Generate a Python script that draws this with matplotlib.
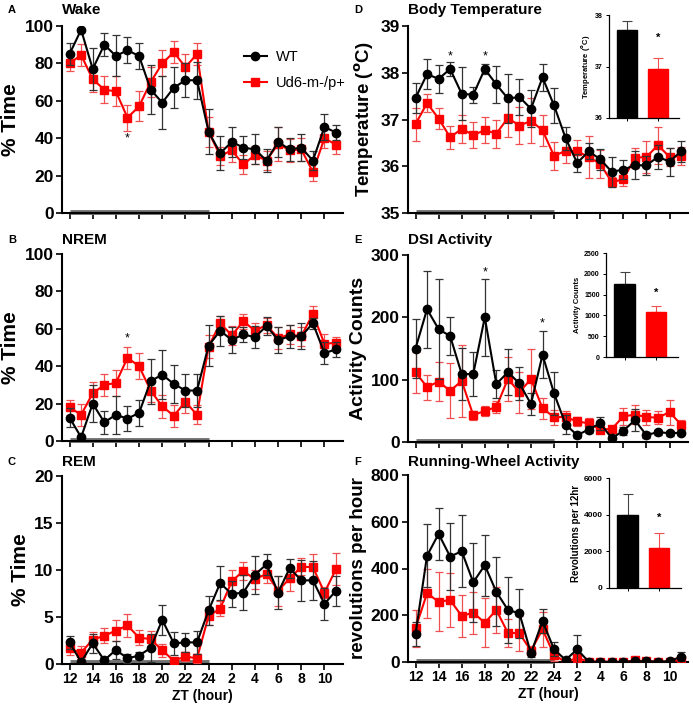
import numpy as np
import matplotlib
matplotlib.use("Agg")
import matplotlib.pyplot as plt
import matplotlib.transforms as mtransforms
from matplotlib.lines import Line2D

plt.rcParams["font.family"] = ["Liberation Sans", "DejaVu Sans"]

# ===== x axis (ZT hour) =====
HOURS = list(range(12, 36))
TICK_POS = list(range(12, 36, 2))
TICK_LABELS = ["12", "14", "16", "18", "20", "22", "24", "2", "4", "6", "8", "10"]

# ===== A: Wake =====
wake_wt = [85, 98, 77, 90, 84, 87, 84, 66, 59, 67, 71, 71,
           43.5, 32, 38, 35, 34, 28, 38, 34, 35, 28, 46, 43]
wake_wt_err = [6, 1, 11, 6, 11, 7, 7, 13, 14, 11, 9, 10,
               12, 9, 8, 6, 8, 6, 8, 6, 7, 5, 7, 4]
wake_ko = [80, 84.5, 71.5, 66, 65, 51, 57, 70, 80, 86, 78, 85,
           43.5, 30.5, 33.5, 26, 31, 28, 37, 33.5, 34, 22, 40, 36.5]
wake_ko_err = [4, 6, 7, 7, 8, 7, 8, 8, 7, 6, 7, 6,
               8, 5, 6, 5, 5, 5, 9, 6, 6, 5, 5, 5]

# ===== B: NREM =====
nrem_wt = [12.5, 2, 20, 10, 14, 12, 15, 32, 35.5, 30.5, 27, 27,
           51, 59, 54, 57, 55.5, 61.5, 54, 56, 56, 63, 47, 49]
nrem_wt_err = [5, 0.5, 10, 6, 10, 6.5, 7, 12, 13, 10, 9, 9,
               11, 8, 7, 4, 6, 5, 7, 6, 7, 3, 6, 4]
nrem_ko = [18, 14, 25.5, 30, 31, 44.5, 40, 27, 18.5, 13.5, 21, 14,
           50.5, 63, 56.5, 64, 59, 62, 55, 57, 56, 68, 52, 52.5]
nrem_ko_err = [4, 6, 6, 6, 7, 6, 7, 6, 6, 6, 6, 5,
               6, 4, 5, 4, 4, 4, 6, 5, 5, 4, 5, 3]

# ===== C: REM =====
rem_wt = [2.3, 0.2, 2.2, 0.4, 1.5, 0.6, 0.9, 1.7, 4.7, 2.2, 2.3, 2.3,
          5.7, 8.6, 7.45, 7.6, 9.5, 10.6, 7.6, 10.2, 8.9, 8.9, 6.4, 7.8]
rem_wt_err = [0.7, 0.3, 1.0, 0.3, 1.0, 0.5, 0.4, 1.5, 1.6, 1.2, 1.0, 1.2,
              1.5, 1.8, 1.4, 1.9, 2.0, 1.1, 1.8, 1.0, 2.2, 2.1, 1.7, 1.6]
rem_ko = [1.65, 1.2, 2.6, 3.0, 3.55, 4.1, 2.8, 2.65, 1.45, 0.35, 0.8, 0.6,
          5.1, 5.9, 8.8, 9.9, 9.0, 9.6, 7.8, 9.1, 10.35, 10.3, 7.6, 10.1]
rem_ko_err = [0.7, 0.7, 0.8, 0.8, 1.1, 1.2, 0.8, 0.9, 0.7, 0.3, 0.5, 0.5,
              1.0, 0.8, 1.2, 1.0, 1.0, 1.0, 1.6, 1.3, 0.9, 1.4, 0.6, 1.7]

# ===== D: Body temperature =====
temp_wt = [37.46, 37.97, 37.87, 38.08, 37.55, 37.53, 38.08, 37.75, 37.45, 37.48, 37.23, 37.9,
           37.3, 36.6, 36.07, 36.32, 36.15, 35.88, 35.93, 36.02, 36.02, 36.2, 36.1, 36.32]
temp_wt_err = [0.33, 0.32, 0.3, 0.15, 0.57, 0.17, 0.1, 0.4, 0.53, 0.38, 0.4, 0.28,
               0.38, 0.25, 0.2, 0.17, 0.22, 0.32, 0.2, 0.3, 0.2, 0.25, 0.3, 0.22]
temp_ko = [36.9, 37.35, 37.02, 36.62, 36.8, 36.67, 36.77, 36.7, 37.03, 36.87, 36.97, 36.77,
           36.22, 36.33, 36.32, 36.2, 36.05, 35.66, 35.72, 36.18, 36.2, 36.45, 36.2, 36.22]
temp_ko_err = [0.35, 0.2, 0.22, 0.25, 0.3, 0.28, 0.28, 0.3, 0.4, 0.4, 0.48, 0.33,
               0.3, 0.25, 0.25, 0.45, 0.3, 0.1, 0.15, 0.22, 0.35, 0.4, 0.2, 0.2]

# ===== E: DSI activity =====
dsi_wt = [150, 213, 181, 170, 109, 109, 200, 93, 112, 94, 61, 140,
          78, 28, 11, 20, 30, 6, 18, 35, 11, 16, 14, 15]
dsi_wt_err = [48, 62, 80, 30, 42, 35, 62, 22, 37, 27, 18, 38,
              35, 15, 5, 5, 10, 4, 6, 18, 5, 4, 4, 4]
dsi_ko = [112, 88, 97, 82, 98, 43, 50, 56, 101, 80, 101, 54,
          40, 40, 33, 30, 20, 21, 41, 44, 40, 39, 48, 28]
dsi_ko_err = [33, 20, 32, 44, 58, 7, 8, 10, 35, 33, 48, 17,
              12, 10, 7, 8, 5, 3, 14, 15, 12, 10, 20, 8]

# ===== F: Running wheel =====
wheel_wt = [120, 455, 548, 451, 474, 341, 414, 300, 223, 208, 37, 175,
            54, 9, 54, 1, 1, 1, 1, 3, 3, 2, 3, 23]
wheel_wt_err = [50, 135, 112, 145, 155, 170, 130, 148, 140, 105, 15, 50,
                30, 5, 60, 3, 3, 3, 3, 3, 3, 3, 3, 20]
wheel_ko = [144, 294, 258, 265, 197, 211, 168, 222, 125, 123, 48, 140,
            30, 0, 17, 2, 2, 0, 0, 7, 3, 2, 2, 10]
wheel_ko_err = [80, 105, 125, 115, 90, 90, 105, 100, 60, 75, 20, 75,
                25, 3, 15, 3, 3, 2, 2, 5, 3, 3, 3, 5]

# ===== insets (12h dark-phase totals) =====
GROUPS = ["WT", "Ud6-m-/p+"]
ins_temp = [37.7, 36.95]
ins_temp_err = [0.18, 0.22]
ins_dsi = [1760, 1070]
ins_dsi_err = [280, 165]
ins_wheel = [4000, 2200]
ins_wheel_err = [1130, 780]

RED = "#ff0000"
W, H = 693, 709


def px_axes(fig, left, top, right, bottom):
    return fig.add_axes([left / W, 1 - bottom / H, (right - left) / W, (bottom - top) / H])


def style_axes(ax, fs=10, yfs=None, lw=1.5, tl=4):
    for s in ["top", "right"]:
        ax.spines[s].set_visible(False)
    for s in ["left", "bottom"]:
        ax.spines[s].set_linewidth(lw)
    ax.tick_params(width=lw * 0.8, length=tl, labelsize=fs, pad=2)
    if yfs:
        ax.tick_params(axis="y", labelsize=yfs)
    for lab in ax.get_yticklabels() + ax.get_xticklabels():
        lab.set_fontweight("bold")


def line_panel(ax, wt, wt_err, ko, ko_err, ylim, yticks, ylabel, ylabel_fs=15, show_x=False):
    ax.errorbar(HOURS, ko, yerr=ko_err, color=RED, marker="s", ms=6, lw=1.5,
                ecolor="#f05050", elinewidth=0.9, capsize=3, capthick=0.9, zorder=3)
    ax.errorbar(HOURS, wt, yerr=wt_err, color="black", marker="o", ms=6, lw=1.5,
                ecolor="#333333", elinewidth=0.9, capsize=3, capthick=0.9, zorder=4)
    ax.set_xlim(11.35, 35.6)
    ax.set_ylim(*ylim)
    ax.set_yticks(yticks)
    ax.set_xticks(TICK_POS)
    if show_x:
        ax.set_xticklabels(TICK_LABELS)
        ax.set_xlabel("ZT (hour)", fontsize=10, fontweight="bold", labelpad=2)
    else:
        ax.set_xticklabels([])
    ax.set_ylabel(ylabel, fontsize=ylabel_fs, fontweight="bold", labelpad=3)
    style_axes(ax, fs=10, yfs=12.5)
    # dark phase bar
    tr = mtransforms.blended_transform_factory(ax.transData, ax.transAxes)
    ax.plot([12, 24], [0.008, 0.008], transform=tr, color="#707070", lw=3.5,
            solid_capstyle="butt", clip_on=False, zorder=2)


def bar_inset(ax, vals, errs, ylim, yticks, ylabel, star_y, fs=5, lfs=5.5):
    ax.bar([0, 1], vals, width=0.66, color=["black", RED], edgecolor=["black", RED], zorder=2)
    ax.errorbar([0], [vals[0]], yerr=[[0], [errs[0]]], fmt="none", ecolor="#444444",
                elinewidth=0.8, capsize=3.5, capthick=0.8, zorder=1)
    ax.errorbar([1], [vals[1]], yerr=[[0], [errs[1]]], fmt="none", ecolor="#f05050",
                elinewidth=0.8, capsize=3.5, capthick=0.8, zorder=1)
    ax.set_xlim(-0.6, 1.7)
    ax.set_ylim(*ylim)
    ax.set_yticks(yticks)
    ax.set_xticks([0, 1])
    ax.set_xticklabels([])
    ax.set_ylabel(ylabel, fontsize=lfs, fontweight="bold", labelpad=2)
    style_axes(ax, fs=fs, lw=0.9, tl=2.5)
    ax.text(1, star_y, "*", ha="center", va="center", fontsize=8, fontweight="bold")


fig = plt.figure(figsize=(6.93, 7.09), dpi=100)

axA = px_axes(fig, 62, 26, 343, 213)
axB = px_axes(fig, 62, 254, 343, 441)
axC = px_axes(fig, 62, 476, 343, 664)
axD = px_axes(fig, 408, 26, 688, 213)
axE = px_axes(fig, 408, 255, 688, 442)
axF = px_axes(fig, 408, 475, 688, 662)

line_panel(axA, wake_wt, wake_wt_err, wake_ko, wake_ko_err, (0, 100), range(0, 101, 20), "% Time")
line_panel(axB, nrem_wt, nrem_wt_err, nrem_ko, nrem_ko_err, (0, 100), range(0, 101, 20), "% Time")
line_panel(axC, rem_wt, rem_wt_err, rem_ko, rem_ko_err, (0, 20), range(0, 21, 5), "% Time", show_x=True)
line_panel(axD, temp_wt, temp_wt_err, temp_ko, temp_ko_err, (35, 39), range(35, 40),
           "Temperature ($^{\\mathbf{o}}$C)", ylabel_fs=13.5)
line_panel(axE, dsi_wt, dsi_wt_err, dsi_ko, dsi_ko_err, (0, 300), range(0, 301, 100),
           "Activity Counts", ylabel_fs=14)
line_panel(axF, wheel_wt, wheel_wt_err, wheel_ko, wheel_ko_err, (0, 800), range(0, 801, 200),
           "revolutions per hour", ylabel_fs=13.5, show_x=True)

handles = [Line2D([], [], color="black", marker="o", ms=6, lw=1.5),
           Line2D([], [], color=RED, marker="s", ms=6, lw=1.5)]
axA.legend(handles=handles, labels=GROUPS, loc="upper left", bbox_to_anchor=(0.6, 0.94),
           frameon=False, fontsize=10.5, handlelength=1.6, handletextpad=0.6, labelspacing=0.8)

# significance stars
for ax, x, y in [(axA, 17, 40), (axB, 17, 55), (axD, 15, 38.35), (axD, 18, 38.35),
                 (axE, 18, 272), (axE, 23, 190)]:
    ax.text(x, y, "*", ha="center", va="center", fontsize=9)

# panel titles and letters
titles = [("A", "Wake", 62, 10), ("B", "NREM", 62, 240), ("C", "REM", 62, 462),
          ("D", "Body Temperature", 408, 10), ("E", "DSI Activity", 408, 240),
          ("F", "Running-Wheel Activity", 408, 462)]
for letter, title, x0, y0 in titles:
    fig.text((x0 - 54) / W, 1 - y0 / H, letter, fontsize=8, fontweight="bold", va="center")
    fig.text(x0 / W, 1 - y0 / H, title, fontsize=11, fontweight="bold", va="center")

# insets
insD = px_axes(fig, 609, 15, 679, 118)
bar_inset(insD, ins_temp, ins_temp_err, (36, 38), [36, 37, 38], "Temperature ($^{\\mathbf{o}}$C)", 37.55)
insE = px_axes(fig, 606, 253, 678, 357)
bar_inset(insE, ins_dsi, ins_dsi_err, (0, 2500), range(0, 2501, 500), "Activity Counts", 1550)
insF = px_axes(fig, 609, 478, 681, 588)
bar_inset(insF, ins_wheel, ins_wheel_err, (0, 6000), range(0, 6001, 2000), "Revolutions per 12hr",
          3850, fs=6, lfs=7)

fig.savefig("out.png", dpi=100)
